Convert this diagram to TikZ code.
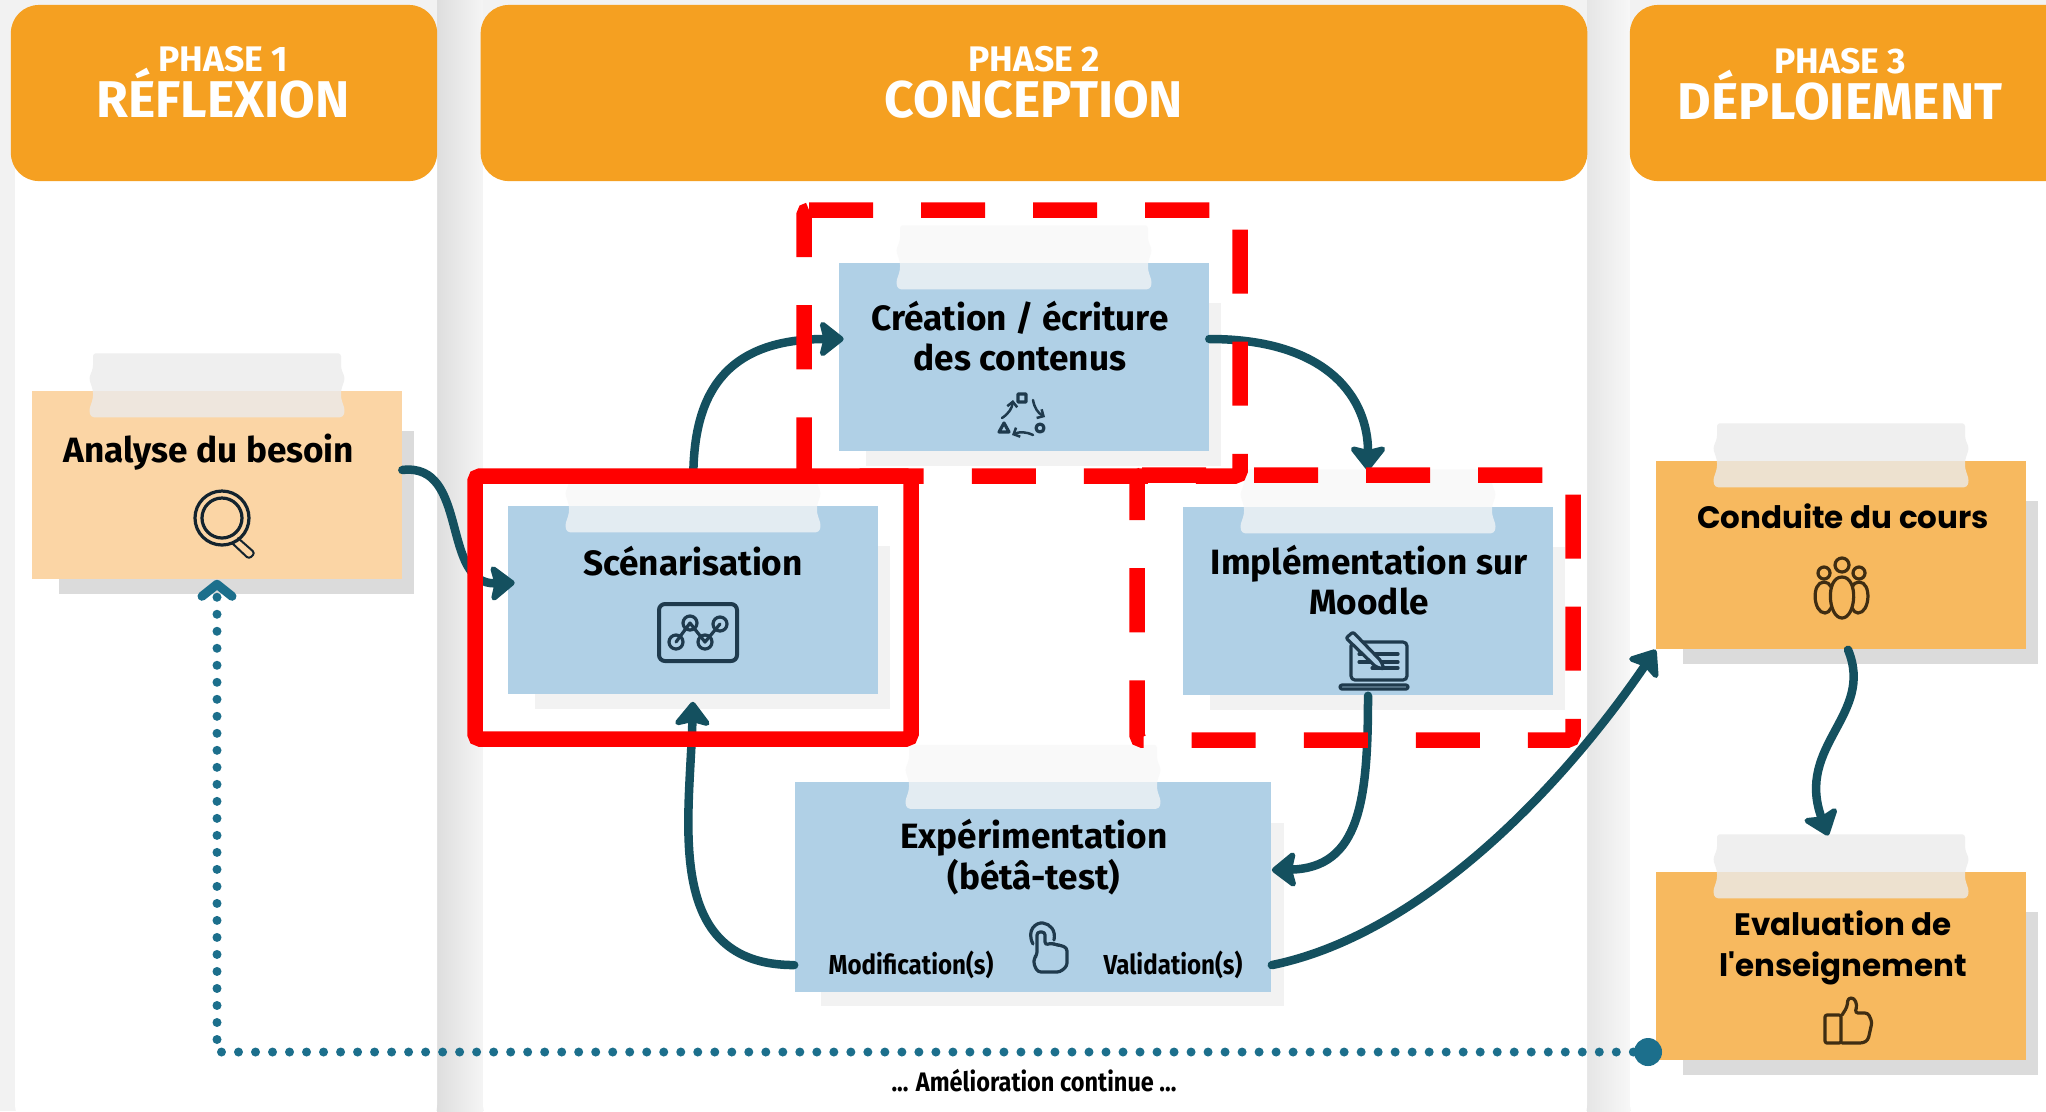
\documentclass[tikz,border=0pt]{standalone}
\usepackage{fontspec}
\setmainfont{Fira Sans}
\newfontfamily\narrowfont{Fira Sans}[FakeStretch=0.88]
\newfontfamily\widefont{Poppins}
\usetikzlibrary{arrows.meta,backgrounds,calc}

\definecolor{headerorange}{HTML}{F5A021}
\definecolor{notepeach}{HTML}{FBD5A5}
\definecolor{noteblue}{HTML}{B0D0E6}
\definecolor{noteorange}{HTML}{F7B95F}
\definecolor{flowteal}{HTML}{14505F}
\definecolor{loopteal}{HTML}{1C6F8C}
\definecolor{iconblue}{HTML}{1F3A4D}
\definecolor{iconbrown}{HTML}{3F2D12}

\newcommand{\phasetitle}[1]{\leavevmode\smash{\fontsize{14.7}{15}\selectfont #1}}

\tikzset{
	header/.style = {fill = headerorange, rounded corners = 0.28cm, minimum height = 1.76cm, inner sep = 0},
	headtext/.style = {white, font = \bfseries\fontsize{10.1}{13}\selectfont, align = center},
	note/.style = {minimum width = 3.69cm, minimum height = 1.88cm, inner sep = 0},
	notetext/.style = {font = \bfseries\fontsize{10}{11.5}\selectfont, align = center, inner sep = 0},
	widetext/.style = {font = \widefont\bfseries\fontsize{8.8}{11.5}\selectfont, align = center, inner sep = 0},
	smalltext/.style = {font = \narrowfont\bfseries\fontsize{7.8}{9}\selectfont, inner sep = 0},
	flow/.style = {draw = flowteal, line width = 0.085cm, line cap = round, -{Stealth[length = 0.27cm, width = 0.42cm, inset = 0.05cm, round]}},
	redframe/.style = {draw = red, line width = 0.155cm, rounded corners = 0.05cm},
	reddash/.style = {redframe, dash pattern = on 0.64cm off 0.48cm},
	icon/.style = {line width = 0.032cm, line join = round, line cap = round},
	cycleicon/.style = {iconblue, icon, line width = 0.025cm, -{Straight Barb[length = 0.05cm, width = 0.1cm]}},
	tapeblue/.style = {fill = black!3, fill opacity = 0.72},
	tapeorange/.style = {fill = black!8, fill opacity = 0.8},
	pics/tape/.style = {code = {
		\path[#1, rounded corners = 0.03cm] (-124,-37) -- (124,-37) -- (124,-22) -- (128,-12) -- (124,0) -- (124,8)
			-- (128,20) -- (126,27) -- (-126,27) -- (-128,20) -- (-124,8) -- (-124,0) -- (-128,-12) -- (-124,-22) -- cycle;
	}}
}

\begin{document}
\begin{tikzpicture}[x = 0.01cm, y = -0.01cm]
	%	page setup
	\useasboundingbox (0,0) rectangle (2046,1111);
	\clip (0,0) rectangle (2046,1111);

	%	columns
	\begin{scope}[on background layer]
		\fill[black!5] (0,0) rectangle (2046,1111);
		\shade[left color = black!13, right color = black!4] (437,0) rectangle (483,1111);
		\shade[left color = black!10, right color = black!3] (1587,0) rectangle (1630,1111);
		\fill[white, rounded corners = 0.2cm] (15,100) rectangle (437,1125);
		\fill[white, rounded corners = 0.2cm] (483,100) rectangle (1587,1125);
		\fill[white, rounded corners = 0.2cm] (1630,100) rectangle (2080,1125);
	\end{scope}

	%	phase headers
	\node[header, minimum width = 4.26cm] (phaseone) at (224,93) {};
	\node[header, minimum width = 11.06cm] (phasetwo) at (1034,93) {};
	\node[header, minimum width = 4.5cm] (phasethree) at (1855,93) {};
	\node[headtext] (phaseonetext) at (223,82) {PHASE 1\\\phasetitle{RÉFLEXION}};
	\node[headtext] (phasetwotext) at (1034,82) {PHASE 2\\\phasetitle{CONCEPTION}};
	\node[headtext] (phasethreetext) at (1840,84) {PHASE 3\\\phasetitle{DÉPLOIEMENT}};

	%	notes
	\node[note, fill = notepeach] (analyse) at (217,485) {};
	\node[note, fill = noteblue] (scenario) at (693,600) {};
	\node[note, fill = noteblue] (creation) at (1024,357) {};
	\node[note, fill = noteblue] (moodle) at (1368,601) {};
	\node[note, fill = noteblue, minimum width = 4.76cm, minimum height = 2.09cm] (betatest) at (1033,887) {};
	\node[note, fill = noteorange] (conduite) at (1841,555) {};
	\node[note, fill = noteorange] (evaluation) at (1841,966) {};

	%	shadows
	\begin{scope}[on background layer]
		\foreach \name/\tone in {analyse/14, conduite/14, evaluation/14, scenario/5, creation/5, moodle/5, betatest/5}
			\fill[black!\tone] ($(\name.north west) + (27,41)$) rectangle ($(\name.south east) + (12,14)$);
	\end{scope}

	%	tape
	\foreach \name in {scenario, creation, moodle, betatest}
		\pic (tape\name) at (\name.north) {tape = tapeblue};
	\foreach \name in {analyse, conduite, evaluation}
		\pic (tape\name) at (\name.north) {tape = tapeorange};

	%	labels
	\node[notetext] (analysetext) at (209,452) {Analyse du besoin};
	\node[notetext] (scenariotext) at (693,561) {Scénarisation};
	\node[notetext] (creationtext) at (1020,336) {Création / écriture\\des contenus};
	\node[notetext] (moodletext) at (1369,580) {Implémentation sur\\Moodle};
	\node[notetext] (betatesttext) at (1034,857) {Expérimentation\\(bétâ-test)};
	\node[smalltext] (modiftext) at (911,965) {Modification(s)};
	\node[smalltext] (validtext) at (1173,965) {Validation(s)};
	\node[widetext] (conduitetext) at (1843,516) {Conduite du cours};
	\node[widetext] (evaluationtext) at (1843,948) {Evaluation de\\l'enseignement};
	\node[smalltext, font = \narrowfont\bfseries\fontsize{7.6}{9}\selectfont] (continuetext) at (1034,1081) {... Amélioration continue ...};

	%	flow
	\draw[flow, shorten >= -0.07cm] ([yshift = 0.15cm]analyse.east) .. controls (470,462) and (440,585) .. ([yshift = 0.17cm]scenario.west);
	\draw[flow, shorten <= 0.3cm, shorten >= -0.05cm] (scenario.north) .. controls (694,400) and (720,339) .. ([yshift = 0.18cm]creation.west);
	\draw[flow, shorten >= 0.36cm] ([yshift = 0.18cm]creation.east) .. controls (1330,339) and (1368,400) .. (moodle.north);
	\draw[flow] (moodle.south) .. controls (1368,800) and (1360,868) .. ([yshift = 0.17cm]betatest.east);
	\draw[flow, shorten >= 0.07cm] ([yshift = -0.78cm]betatest.west) .. controls (662,965) and (690,820) .. (scenario.south);
	\draw[flow] ([yshift = -0.78cm]betatest.east) .. controls (1420,935) and (1560,790) .. (conduite.south west);
	\draw[flow, shorten >= 0.38cm] ([xshift = 0.07cm]conduite.south) .. controls (1875,715) and (1795,745) .. (evaluation.north);

	%	continuous improvement loop
	\node[circle, fill = loopteal, minimum size = 0.28cm, inner sep = 0] (loopstart) at (1648,1052) {};
	\draw[loopteal, line width = 0.09cm, line cap = round, dash pattern = on 0cm off 0.17cm,
		-{Straight Barb[length = 0.12cm, width = 0.3cm, round]}] (loopstart) -| (analyse.south);

	%	frames
	\draw[redframe] (475,476) rectangle (911,739);
	\draw[reddash] (804,210) -- (1240,210) -- (1240,476) -- (804,476) -- cycle;
	\draw[reddash] (1137,475) -- (1573,475) -- (1573,740) -- (1137,740) -- cycle;

	%	icon magnifier
	\draw[iconblue!60!black, icon] (222,518) circle [radius = 27] (222,518) circle [radius = 20];
	\draw[iconblue!60!black, icon, line width = 0.02cm, rounded corners = 0.03cm] (238,538) -- (255,553) -- (249,559) -- (232,543);

	%	icon chart
	\draw[iconblue, icon, rounded corners = 0.06cm, line width = 0.04cm] (659,604) rectangle (737,661);
	\draw[iconblue, icon] (676,642) -- (690,623) -- (705,642) -- (720,624);
	\foreach \x/\y in {676/642, 690/623, 705/642, 720/624}
		\draw[iconblue, icon] (\x,\y) circle [radius = 7];

	%	icon cycle
	\draw[iconblue, icon] (1018,394) rectangle (1026,402) (1040,428) circle [radius = 4];
	\draw[iconblue, icon] (1004,423) -- (1009,432) -- (999,432) -- cycle;
	\draw[cycleicon] (1033,400) to[bend right = 25] (1045,417);
	\draw[cycleicon] (1033,435) to[bend right = 25] (1012,435);
	\draw[cycleicon] (1002,418) to[bend right = 25] (1013,400);

	%	icon laptop
	\draw[iconblue, icon, rounded corners = 0.04cm] (1351,642) rectangle (1407,680);
	\draw[iconblue, icon, rounded corners = 0.02cm] (1340,685) rectangle (1408,689);
	\draw[iconblue, icon] (1359,654) -- (1398,654) (1359,662) -- (1398,662) (1372,668) -- (1398,668);
	\draw[iconblue, icon, fill = noteblue, rounded corners = 0.02cm] (1346,638) -- (1353,632) -- (1381,661) -- (1384,669) -- (1376,667) -- cycle;

	%	icon hand
	\draw[iconblue, icon] (1033,944) .. controls (1026,930) and (1036,922) .. (1043,923) .. controls (1050,924) and (1056,930) .. (1054,940);
	\draw[iconblue, icon, rounded corners = 0.03cm] (1037,955) -- (1037,932) -- (1045,932) -- (1045,945) -- (1052,943) -- (1056,945) -- (1060,945)
		-- (1067,948) -- (1067,966) -- (1060,972) -- (1038,972) -- (1034,965) -- (1034,958) -- cycle;

	%	icon group
	\foreach \x in {1824, 1859}
		\draw[iconbrown, icon, fill = noteorange] (\x,573) circle [radius = 6];
	\draw[iconbrown, icon] (1842,565) circle [radius = 7];
	\draw[iconbrown, icon] (1824,582) .. controls (1811,582) and (1813,613) .. (1825,613) .. controls (1835,613) and (1837,582) .. (1824,582);
	\draw[iconbrown, icon] (1859,582) .. controls (1872,582) and (1870,613) .. (1858,613) .. controls (1848,613) and (1846,582) .. (1859,582);
	\draw[iconbrown, icon, fill = noteorange] (1842,577) .. controls (1825,577) and (1828,618) .. (1842,618) .. controls (1856,618) and (1859,577) .. (1842,577);

	%	icon thumb
	\draw[iconbrown, icon, rounded corners = 0.02cm] (1825,1015) rectangle (1841,1043);
	\draw[iconbrown, icon, rounded corners = 0.03cm] (1842,1015) -- (1847,1007) -- (1848,998) -- (1854,998) -- (1857,1005) -- (1855,1013)
		-- (1868,1013) -- (1872,1022) -- (1868,1040) -- (1863,1043) -- (1842,1043);
\end{tikzpicture}
\end{document}
